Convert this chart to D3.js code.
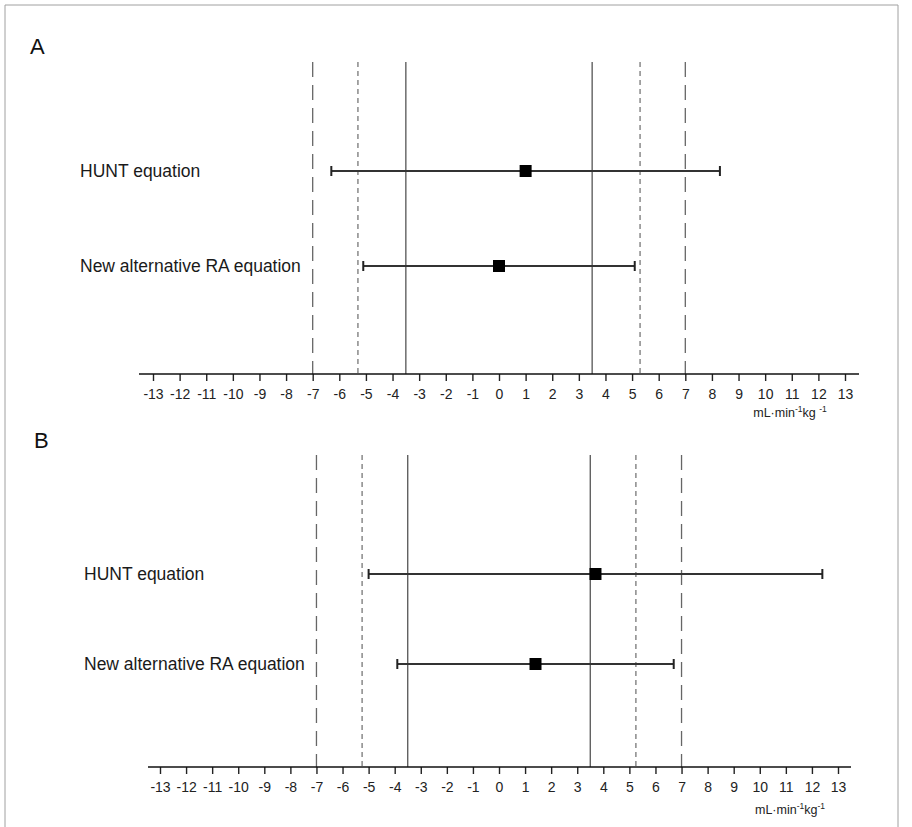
<!DOCTYPE html>
<html>
<head>
<meta charset="utf-8">
<script src="https://d3js.org/d3.v7.min.js"></script>
<style>
  body { margin: 0; background: #fff; }
  text { font-family: "Liberation Sans", Arial, sans-serif; }
</style>
</head>
<body>
<div id="chart"></div>
<script>
// Data
const equations = ["HUNT equation", "New alternative RA equation"];
const meanA = [1.0, 0.0];
const lowA = [-6.3, -5.1];
const highA = [8.3, 5.1];
const meanB = [3.7, 1.4];
const lowB = [-5.0, -3.9];
const highB = [12.4, 6.7];
const tickValues = d3.range(-13, 14);
const solidLimits = [-3.5, 3.5];
const shortDashA = [-5.3, 5.3];
const shortDashB = [-5.25, 5.25];
const longDash = [-7, 7];

const width = 912, height = 827;

const svg = d3.select("#chart").append("svg")
  .attr("width", width)
  .attr("height", height);

// frame
svg.append("path")
  .attr("d", `M5,${height} V5 H898 V${height}`)
  .attr("fill", "none")
  .attr("stroke", "#a0a0a0")
  .attr("stroke-width", 1);

function drawPanel(opt) {
  const x = d3.scaleLinear().domain([0, 13]).range([opt.x0, opt.x13]);
  const g = svg.append("g");

  g.append("text")
    .attr("x", opt.letterX).attr("y", opt.letterY)
    .attr("font-size", 22).attr("fill", "#111")
    .text(opt.letter);

  // reference lines
  const refs = [
    ...longDash.map(v => ({v, dash: "15,8", color: "#666"})),
    ...opt.shortDash.map(v => ({v, dash: "5,4", color: "#777"})),
    ...solidLimits.map(v => ({v, dash: null, color: "#555"}))
  ];
  g.selectAll(".ref").data(refs).enter().append("line")
    .attr("x1", d => x(d.v)).attr("x2", d => x(d.v))
    .attr("y1", opt.top).attr("y2", opt.axisY)
    .attr("stroke", d => d.color)
    .attr("stroke-width", 1.3)
    .attr("stroke-dasharray", d => d.dash);

  // axis
  const axis = d3.axisBottom(x).tickValues(tickValues).tickSize(7).tickSizeOuter(0)
    .tickFormat(d => d);
  const ax = g.append("g").attr("transform", `translate(0,${opt.axisY})`).call(axis);
  ax.select(".domain").remove();
  ax.append("line")
    .attr("x1", opt.axisL).attr("x2", opt.axisR)
    .attr("stroke", "#111").attr("stroke-width", 1.6);
  ax.selectAll(".tick line").attr("stroke", "#222").attr("stroke-width", 1.4);
  ax.selectAll(".tick text")
    .attr("y", 15)
    .attr("font-size", 14)
    .attr("font-family", "Liberation Sans, Arial, sans-serif")
    .attr("fill", "#222");

  // unit label
  const unit = g.append("text")
    .attr("x", opt.unitX).attr("y", opt.unitY)
    .attr("text-anchor", "middle")
    .attr("font-size", 12.5).attr("fill", "#222");
  unit.append("tspan").text("mL·min");
  unit.append("tspan").attr("font-size", 8.5).attr("dy", -5).text("-1");
  unit.append("tspan").attr("dy", 5).text("kg" + opt.unitGap);
  unit.append("tspan").attr("font-size", 8.5).attr("dy", -5).text("-1");

  // rows
  const rows = equations.map((name, i) => ({
    name, y: opt.rowY[i], mean: opt.mean[i], low: opt.low[i], high: opt.high[i]
  }));

  g.selectAll(".lbl").data(rows).enter().append("text")
    .attr("x", opt.labelX).attr("y", d => d.y + 6)
    .attr("font-size", 17.5).attr("fill", "#1a1a1a")
    .text(d => d.name);

  g.selectAll(".bar").data(rows).enter().append("line")
    .attr("x1", d => x(d.low)).attr("x2", d => x(d.high))
    .attr("y1", d => d.y).attr("y2", d => d.y)
    .attr("stroke", "#333").attr("stroke-width", 2);

  rows.forEach(d => {
    [d.low, d.high].forEach(v => {
      g.append("line")
        .attr("x1", x(v)).attr("x2", x(v))
        .attr("y1", d.y - 5).attr("y2", d.y + 5)
        .attr("stroke", "#222").attr("stroke-width", 2);
    });
  });

  g.selectAll(".mk").data(rows).enter().append("rect")
    .attr("x", d => x(d.mean) - 6).attr("y", d => d.y - 6)
    .attr("width", 12).attr("height", 12)
    .attr("fill", "#000");
}

drawPanel({
  letter: "A", letterX: 30, letterY: 54,
  x0: 499, x13: 845, axisL: 139, axisR: 859, axisY: 374, top: 62,
  shortDash: shortDashA, unitX: 790, unitY: 417, unitGap: " ",
  labelX: 80, rowY: [171, 266],
  mean: meanA, low: lowA, high: highA
});

drawPanel({
  letter: "B", letterX: 34, letterY: 448,
  x0: 499, x13: 838, axisL: 148, axisR: 851, axisY: 767, top: 455,
  shortDash: shortDashB, unitX: 790, unitY: 814, unitGap: "",
  labelX: 84, rowY: [574, 664],
  mean: meanB, low: lowB, high: highB
});
</script>
</body>
</html>
